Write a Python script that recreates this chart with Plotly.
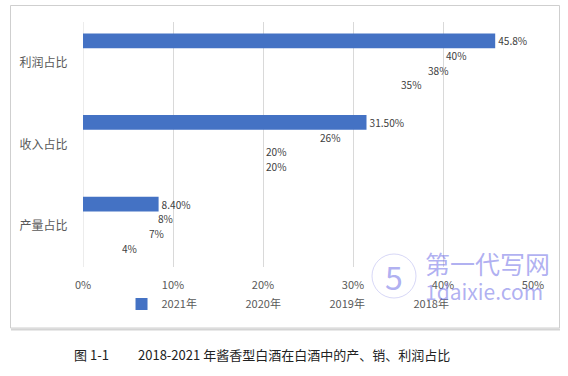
import plotly.graph_objects as go

categories = ["产量占比", "收入占比", "利润占比"]
years = ["2018年", "2019年", "2020年", "2021年"]
values_2018 = [4, 20, 35]
values_2019 = [7, 20, 38]
values_2020 = [8, 26, 40]
values_2021 = [8.4, 31.5, 45.8]
labels_2018 = ["4%", "20%", "35%"]
labels_2019 = ["7%", "20%", "38%"]
labels_2020 = ["8%", "26%", "40%"]
labels_2021 = ["8.40%", "31.50%", "45.8%"]
x_ticks = [0, 10, 20, 30, 40, 50]
x_tick_labels = ["0%", "10%", "20%", "30%", "40%", "50%"]

series = [
    ("2018年", values_2018, labels_2018, "rgba(255,255,255,0)"),
    ("2019年", values_2019, labels_2019, "rgba(255,255,255,0)"),
    ("2020年", values_2020, labels_2020, "rgba(255,255,255,0)"),
    ("2021年", values_2021, labels_2021, "#4472C4"),
]

FONT = "Noto Sans CJK SC"

fig = go.Figure()
for name, vals, labs, col in series:
    fig.add_trace(go.Bar(
        y=categories, x=vals, name=name, orientation="h",
        marker=dict(color=col, line=dict(width=0)),
        text=labs, textposition="outside", cliponaxis=False,
        textfont=dict(family=FONT, size=11, color="#404040"),
    ))

fig.update_layout(
    width=568, height=376,
    margin=dict(l=83, r=35, t=22, b=109, autoexpand=False),
    paper_bgcolor="white", plot_bgcolor="white",
    barmode="group", bargap=0.28, bargroupgap=0,
    font=dict(family=FONT, color="#595959"),
    showlegend=True,
    legend=dict(orientation="h", traceorder="reversed",
                x=0.0856, xanchor="left", y=-0.151, yanchor="middle",
                font=dict(family=FONT, size=11, color="#595959"),
                entrywidth=39, entrywidthmode="pixels",
                itemwidth=30, bgcolor="rgba(0,0,0,0)"),
    xaxis=dict(range=[0, 50], tickvals=x_ticks, ticktext=x_tick_labels,
               showgrid=True, gridcolor="#d9d9d9", gridwidth=1,
               zeroline=False, showline=False, automargin=False,
               tickfont=dict(family=FONT, size=11, color="#595959"),
               ticks="outside", ticklen=8, tickcolor="rgba(0,0,0,0)"),
    yaxis=dict(showgrid=False, zeroline=False, showline=False, automargin=False,
               tickfont=dict(family=FONT, size=12, color="#595959"),
               ticks="outside", ticklen=12, tickcolor="rgba(0,0,0,0)"),
)

fig.add_shape(type="line", xref="x", yref="paper", x0=0, x1=0, y0=0, y1=1,
              line=dict(color="#d9d9d9", width=1), layer="below")

# chart border
fig.add_shape(type="rect", xref="paper", yref="paper",
              x0=(10.5 - 83) / 450, x1=(559.5 - 83) / 450,
              y0=(267 - 328) / 245, y1=(267 - 5.5) / 245,
              line=dict(color="#cfcfcf", width=1))
fig.add_shape(type="line", xref="paper", yref="paper",
              x0=(11 - 83) / 450, x1=(560 - 83) / 450,
              y0=(267 - 329.5) / 245, y1=(267 - 329.5) / 245,
              line=dict(color="#d4d4d4", width=2))

# watermark
WM = "rgba(110,110,230,0.55)"
fig.add_shape(type="circle", xref="paper", yref="paper",
              x0=(372 - 83) / 450, x1=(416 - 83) / 450,
              y0=(267 - 298) / 245, y1=(267 - 254) / 245,
              line=dict(color="rgba(140,140,230,0.35)", width=1))
fig.add_annotation(xref="paper", yref="paper", x=(394 - 83) / 450, y=(267 - 276) / 245,
                   xanchor="center", yanchor="middle", showarrow=False,
                   text="5", font=dict(family=FONT, size=32, color=WM))
fig.add_annotation(xref="paper", yref="paper", x=(423 - 83) / 450, y=(267 - 263) / 245,
                   xanchor="left", yanchor="middle", showarrow=False,
                   text="第一代写网", font=dict(family=FONT, size=25, color=WM))
fig.add_annotation(xref="paper", yref="paper", x=(423 - 83) / 450, y=(267 - 291) / 245,
                   xanchor="left", yanchor="middle", showarrow=False,
                   text="1daixie.com", font=dict(family=FONT, size=21, color=WM))

# caption
fig.add_annotation(xref="paper", yref="paper", x=(72 - 83) / 450, y=(267 - 355) / 245,
                   xanchor="left", yanchor="middle", showarrow=False,
                   text="图 1-1", font=dict(family=FONT, size=13, color="#222222"))
fig.add_annotation(xref="paper", yref="paper", x=(136 - 83) / 450, y=(267 - 355) / 245,
                   xanchor="left", yanchor="middle", showarrow=False,
                   text="2018-2021 年酱香型白酒在白酒中的产、销、利润占比",
                   font=dict(family=FONT, size=13, color="#222222"))

fig.write_html("out.html", config={"displayModeBar": False},
               post_script="document.body.style.margin='0';document.body.style.padding='0';")
